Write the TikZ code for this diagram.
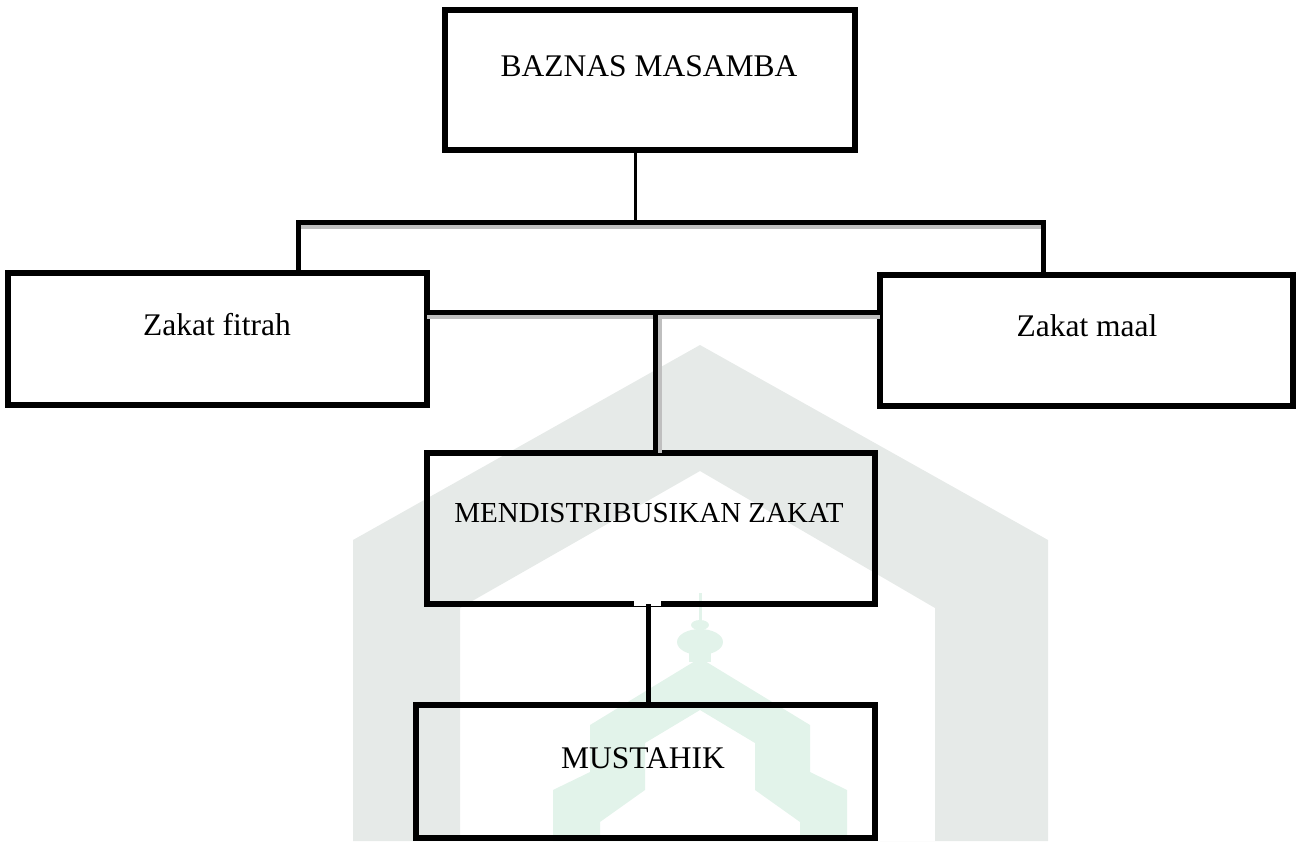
\documentclass[tikz,border=0pt]{standalone}
\usepackage{fontspec}
\setmainfont{Liberation Serif}
\definecolor{wmgrey}{RGB}{230,234,232}
\definecolor{wmgreen}{RGB}{226,243,234}
\begin{document}
\begin{tikzpicture}[x=1pt,y=-1pt,
  box/.style={draw=black, line width=5.5pt, rectangle, inner sep=0pt, outer sep=0pt, anchor=north west},
  lbl/.style={font=\fontsize{31.5}{36}\selectfont, inner sep=0pt, anchor=base},
  conn/.style={draw=black, line width=5pt},
  thinconn/.style={draw=black, line width=3pt},
  shade/.style={draw=black!25, line width=4pt}]
\useasboundingbox (0,0) rectangle (1296,841);
% watermark
\fill[wmgrey, even odd rule] (353,841) -- (353,540) -- (700,345) -- (1048,540) -- (1048,841) -- cycle
  (460,841) -- (460,608) -- (700,471) -- (935,608) -- (935,841) -- cycle;
\fill[wmgreen, even odd rule] (553,841) -- (553,790) -- (590,772) -- (590,725) -- (700,658) -- (810,725) -- (810,772) -- (847,790) -- (847,841) -- cycle
  (600,841) -- (600,822) -- (645,790) -- (645,743) -- (700,710) -- (755,743) -- (755,790) -- (800,822) -- (800,841) -- cycle;
\fill[wmgreen] (700,642) ellipse [x radius=23pt, y radius=13pt];
\fill[wmgreen] (700,625) ellipse [x radius=9pt, y radius=5pt];
\fill[wmgreen] (689,650) rectangle (711,662);
\fill[wmgreen] (699,593) rectangle (701.5,624);
% boxes
\node[box, minimum width=410pt, minimum height=140pt] (baznas) at (445,10) {};
\node[box, minimum width=419pt, minimum height=132pt] (fitrah) at (8,273) {};
\node[box, minimum width=413pt, minimum height=131pt] (maal) at (880,275) {};
\node[box, minimum width=448pt, minimum height=151pt] (distrib) at (427,453) {};
\node[box, minimum width=459pt, minimum height=133pt] (mustahik) at (416,705) {};
% labels
\node[lbl] (baznasT) at (649,76) {BAZNAS MASAMBA};
\node[lbl] (fitrahT) at (217,335) {Zakat fitrah};
\node[lbl] (maalT) at (1087,336) {Zakat maal};
\node[lbl, font=\fontsize{29}{34}\selectfont] (distribT) at (649,522) {MENDISTRIBUSIKAN ZAKAT};
\node[lbl] (mustahikT) at (643,768) {MUSTAHIK};
% connector coordinates
\coordinate (hubT) at (635,222);
\coordinate (hubL) at (298,222);
\coordinate (hubR) at (1043,222);
\coordinate (mid) at (655,312);
\coordinate (low) at (648,650);
\coordinate (shL) at (300,226.5);
\coordinate (shM) at (0,316.5);
\coordinate (shV) at (659.5,316);
\coordinate (gapT) at (0,604);
% shadows
\draw[shade] (shL) -- (1041,226.5);
\draw[shade] (fitrah.east |- shM) -- (maal.west |- shM);
\draw[shade] (shV) -- (shV |- distrib.north);
% connectors
\draw[thinconn] (baznas.south -| hubT) -- (hubT);
\draw[conn] (hubL |- fitrah.north) -- (hubL) -- (hubR) -- (hubR |- maal.north);
\draw[conn] (fitrah.east |- mid) -- (maal.west |- mid);
\draw[conn] (mid) -- (mid |- distrib.north);
\fill[white] (634,601) rectangle (661,606);
\draw[conn] (low |- gapT) -- (low |- mustahik.north);
\end{tikzpicture}
\end{document}
